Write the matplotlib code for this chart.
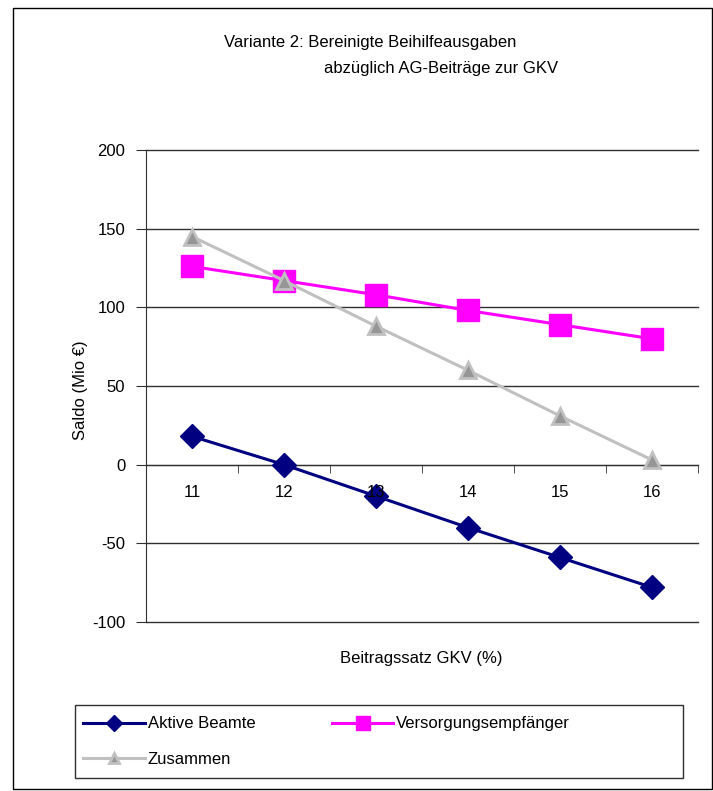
import numpy as np
import matplotlib.pyplot as plt
from matplotlib.patches import Rectangle

plt.rcParams['font.family'] = ['Liberation Sans', 'DejaVu Sans']

# data
rates = ['11', '12', '13', '14', '15', '16']
aktive = [18, 0, -20, -40, -59, -78]
versorgung = [126, 117, 108, 98, 89, 80]
zusammen = [145, 117, 88, 60, 31, 3]
yticks = [-100, -50, 0, 50, 100, 150, 200]

fs = 12
fig = plt.figure(figsize=(7.13, 7.91), dpi=100)
ax = fig.add_axes([146/713, 1-622/791, 552/713, 472/791])

x = np.arange(len(rates))
l1, = ax.plot(x, aktive, color='#000080', lw=2.2, marker='D', ms=12,
              mfc='#000080', mec='#000080', label='Aktive Beamte', zorder=4)
l2, = ax.plot(x, versorgung, color='#FF00FF', lw=2.2, marker='s', ms=15.5,
              mfc='#FF00FF', mec='#FF00FF', label='Versorgungsempfänger', zorder=3)
l3, = ax.plot(x, zusammen, color='#C0C0C0', lw=2.2, marker='^', ms=11,
              mfc='#969696', mec='#C0C0C0', mew=2, label='Zusammen', zorder=5)

ax.set_xlim(-0.5, len(rates) - 0.5)
ax.set_ylim(-100, 200)
ax.set_yticks(yticks)
ax.set_yticklabels([str(v) for v in yticks])
ax.yaxis.grid(True, color='#303030', lw=1)
for gl in ax.get_ygridlines():
    gl.set_clip_on(False)
ax.yaxis.set_zorder(0.5)

ax.set_xticks(x)
ax.set_xticklabels(rates)
ax.set_xticks(np.arange(-0.5, len(rates)), minor=True)
ax.tick_params(axis='x', which='major', length=0, pad=15, labelsize=fs)
ax.tick_params(axis='x', which='minor', length=6, direction='out', color='#303030')
ax.tick_params(axis='y', length=7, direction='out', color='#303030', pad=8,
               labelsize=fs)
ax.xaxis.set_zorder(6)

ax.spines['bottom'].set_position(('data', 0))
ax.spines['bottom'].set_color('#303030')
ax.spines['left'].set_color('#303030')
ax.spines['top'].set_visible(False)
ax.spines['right'].set_visible(False)

fig.text(80/713, 1-390/791, 'Saldo (Mio €)', fontsize=fs, rotation=90,
         ha='center', va='center')
fig.text(421/713, 1-658/791, 'Beitragssatz GKV (%)', fontsize=fs,
         ha='center', va='center')

fig.text(370/713, 1-42/791, 'Variante 2: Bereinigte Beihilfeausgaben',
         fontsize=fs, ha='center', va='center')
fig.text(441/713, 1-68/791, 'abzüglich AG-Beiträge zur GKV',
         fontsize=fs, ha='center', va='center')

leg = fig.legend([l1, l3, l2], ['Aktive Beamte', 'Zusammen', 'Versorgungsempfänger'],
                 loc='upper left', bbox_to_anchor=(80/713, 1-713/791), ncol=2,
                 fontsize=fs, handlelength=3.7, frameon=False, borderaxespad=0,
                 columnspacing=4.6, borderpad=0.2, labelspacing=1.25,
                 handletextpad=0.15, markerscale=0.65)

fig.patches.append(Rectangle((75/713, 1-778/791), 608/713, 73/791,
                             transform=fig.transFigure, fill=False,
                             edgecolor='#303030', lw=1))
fig.patches.append(Rectangle((13/713, 0.002), 1-14/713, 1-8/791-0.002,
                             transform=fig.transFigure, fill=False,
                             edgecolor='black', lw=1))

fig.savefig('out.png', dpi=100)
